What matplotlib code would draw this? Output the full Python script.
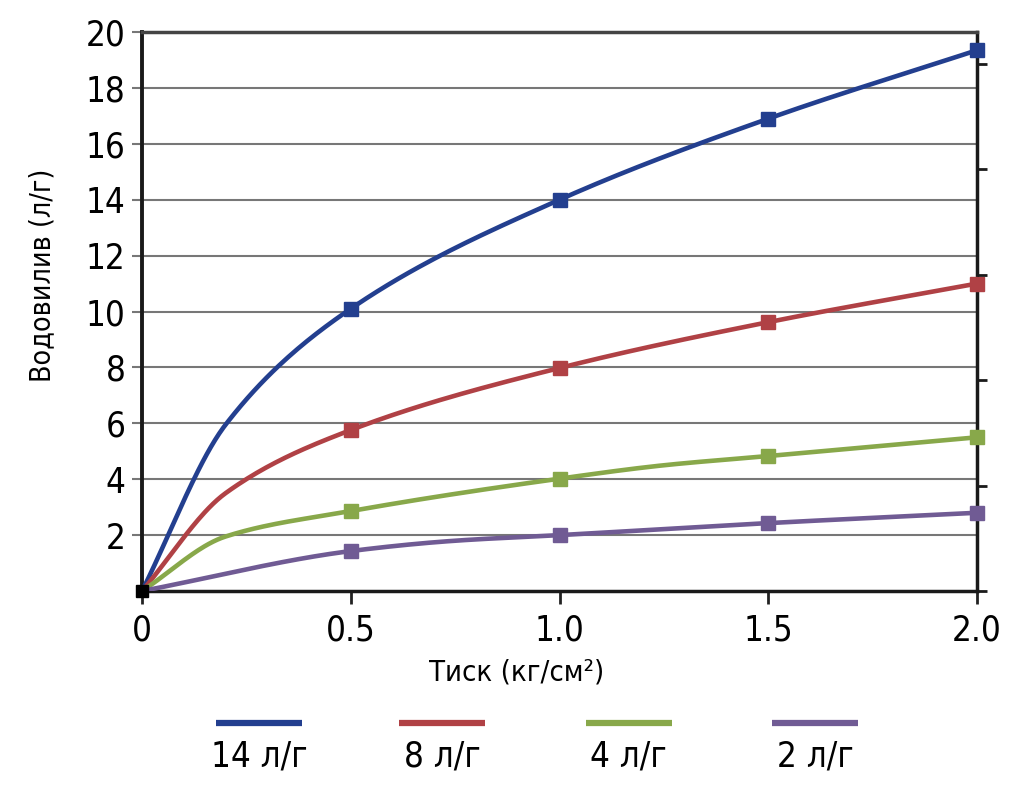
import numpy as np
import matplotlib
matplotlib.use("Agg")
import matplotlib.pyplot as plt
from matplotlib.lines import Line2D

plt.rcParams['font.family'] = ['DejaVu Sans']
plt.rcParams['font.stretch'] = 'condensed'

# marker points
x_marks = [0.5, 1.0, 1.5, 2.0]
y14_marks = [10.1, 14.0, 16.9, 19.35]
y8_marks = [5.76, 7.98, 9.62, 11.0]
y4_marks = [2.86, 4.02, 4.83, 5.5]
y2_marks = [1.43, 2.0, 2.43, 2.8]

# points (incl. the bends between markers)
x14 = [0.0, 0.2, 0.5, 1.0, 1.5, 2.0]
y14 = [0.0, 5.95, 10.1, 14.0, 16.9, 19.35]
x8 = [0.0, 0.2, 0.5, 1.0, 1.5, 2.0]
y8 = [0.0, 3.5, 5.76, 7.98, 9.62, 11.0]
x4 = [0.0, 0.2, 0.5, 1.0, 1.25, 1.5, 2.0]
y4 = [0.0, 1.95, 2.86, 4.02, 4.5, 4.83, 5.5]
x2 = [0.0, 0.5, 0.75, 1.0, 1.5, 2.0]
y2 = [0.0, 1.43, 1.8, 2.0, 2.43, 2.8]

labels = ['14 л/г', '8 л/г', '4 л/г', '2 л/г']
colors = ['#233f8f', '#b04145', '#88a84a', '#705b94']


def smooth(xs, ys, n=40):
    # monotone cubic hermite, just for drawing a smoothed line
    xs = np.asarray(xs, float)
    ys = np.asarray(ys, float)
    h = np.diff(xs)
    d = np.diff(ys) / h
    m = np.zeros_like(ys)
    m[0], m[-1] = d[0], d[-1]
    for i in range(1, len(xs) - 1):
        if d[i - 1] * d[i] > 0:
            w1 = 2 * h[i] + h[i - 1]
            w2 = h[i] + 2 * h[i - 1]
            m[i] = (w1 + w2) / (w1 / d[i - 1] + w2 / d[i])
    out_x, out_y = [], []
    for i in range(len(xs) - 1):
        t = np.linspace(0, 1, n, endpoint=False)
        h00 = 2 * t**3 - 3 * t**2 + 1
        h10 = t**3 - 2 * t**2 + t
        h01 = -2 * t**3 + 3 * t**2
        h11 = t**3 - t**2
        out_x.append(xs[i] + t * h[i])
        out_y.append(h00 * ys[i] + h10 * h[i] * m[i] + h01 * ys[i + 1] + h11 * h[i] * m[i + 1])
    out_x.append([xs[-1]])
    out_y.append([ys[-1]])
    return np.concatenate(out_x), np.concatenate(out_y)


fig = plt.figure(figsize=(10.24, 7.93), dpi=100)
ax = fig.add_axes([0.1387, 0.2547, 0.8154, 0.7049])

curves = [(x14, y14, y14_marks), (x8, y8, y8_marks), (x4, y4, y4_marks), (x2, y2, y2_marks)]
for (cx, cy, my), c in zip(curves, colors):
    sx, sy = smooth(cx, cy)
    ax.plot(sx, sy, color=c, lw=3.3, solid_capstyle='butt', zorder=3)
    ax.plot(x_marks, my, ls='none', marker='s', ms=9.5, color=c, zorder=4, clip_on=False)
ax.plot([0], [0], ls='none', marker='s', ms=8, color='black', zorder=5, clip_on=False)

ax.set_xlim(0, 2.0)
ax.set_ylim(0, 20)
ax.set_xticks([0, 0.5, 1.0, 1.5, 2.0])
ax.set_xticklabels(['0', '0.5', '1.0', '1.5', '2.0'])
ax.set_yticks(range(2, 21, 2))
ax.tick_params(axis='x', direction='out', length=9, width=2, color='#222', labelsize=25, pad=7)
ax.tick_params(axis='y', direction='out', length=7, width=1.5, color='#777', labelsize=25, pad=5)
for yv in range(2, 20, 2):
    ax.axhline(yv, color='#777', lw=1.5, zorder=1)

ax.spines['left'].set_linewidth(2.8)
ax.spines['left'].set_color('#1a1a1a')
ax.spines['bottom'].set_linewidth(2.5)
ax.spines['bottom'].set_color('#1a1a1a')
ax.spines['right'].set_linewidth(2.5)
ax.spines['right'].set_color('#1a1a1a')
ax.spines['top'].set_linewidth(2.5)
ax.spines['top'].set_color('#444')

# right-hand axis ticks (no labels)
ax2 = ax.twinx()
ax2.set_ylim(0, 5.3)
ax2.set_yticks(range(0, 6))
ax2.set_yticklabels([])
ax2.tick_params(axis='y', direction='out', length=7, width=2, color='#1a1a1a')
for s in ax2.spines.values():
    s.set_visible(False)

ax.set_xlabel('Тиск (кг/см²)', fontsize=21)
ax.set_ylabel('Водовилив (л/г)', fontsize=20.5)
ax.xaxis.set_label_coords(0.449, -0.145)
ax.yaxis.set_label_coords(-0.12, 0.565)
ax.xaxis.label.set_va('center')
ax.yaxis.label.set_va('center')

# legend: line above label
leg_x = [0.253, 0.432, 0.614, 0.796]
for lx, lab, c in zip(leg_x, labels, colors):
    fig.add_artist(Line2D([lx - 0.042, lx + 0.042], [0.088, 0.088], color=c, lw=4.5,
                          solid_capstyle='butt', transform=fig.transFigure))
    fig.text(lx, 0.046, lab, ha='center', va='center', fontsize=25)

fig.savefig('out.png', dpi=100)
